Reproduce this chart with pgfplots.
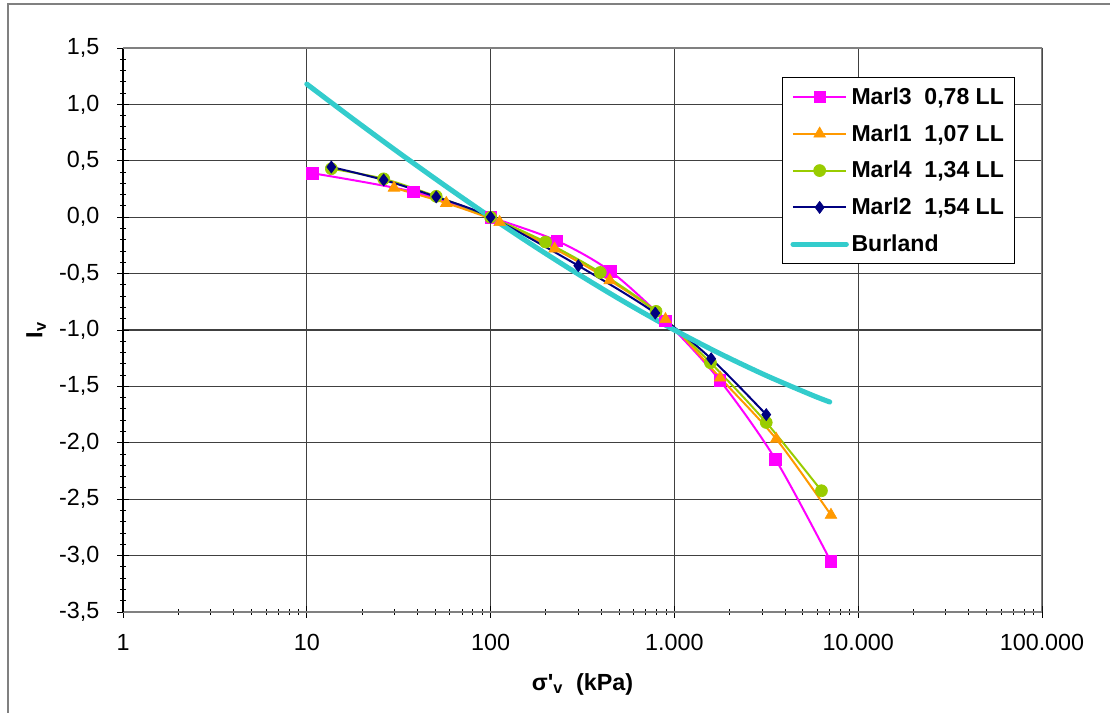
\documentclass[border=0pt]{standalone}
\usepackage{pgfplots}
\pgfplotsset{compat=1.18}
\usepackage{fontspec}
\setmainfont{Liberation Sans}
\definecolor{cMag}{RGB}{255,0,255}
\definecolor{cOra}{RGB}{255,153,0}
\definecolor{cGre}{RGB}{153,204,0}
\definecolor{cNav}{RGB}{0,0,128}
\definecolor{cCya}{RGB}{51,204,204}
\begin{document}
\begin{tikzpicture}
\useasboundingbox (0,0) rectangle (832.5pt,534.75pt);
\draw[gray, line width=1.1pt] (6pt,-5pt) -- (6pt,531.75pt) -- (840pt,531.75pt);
\begin{axis}[
  at={(92.25pt,75.75pt)}, anchor=south west,
  scale only axis, width=689.25pt, height=423pt,
  xmode=log, xmin=1, xmax=100000,
  ymin=-3.5, ymax=1.5,
  axis lines*=left,
  x axis line style={draw=gray, line width=1.4pt},
  y axis line style={draw=black, line width=0.8pt},
  xtick={1,10,100,1000,10000,100000},
  xticklabels={1,10,100,1.000,10.000,100.000},
  ytick={-3.5,-3,-2.5,-2,-1.5,-1,-0.5,0,0.5,1,1.5},
  yticklabels={{-3,5},{-3,0},{-2,5},{-2,0},{-1,5},{-1,0},{-0,5},{0,0},{0,5},{1,0},{1,5}},
  minor ytick={-3.4,-3.3,-3.2,-3.1,-2.9,-2.8,-2.7,-2.6,-2.4,-2.3,-2.2,-2.1,-1.9,-1.8,-1.7,-1.6,-1.4,-1.3,-1.2,-1.1,-0.9,-0.8,-0.7,-0.6,-0.4,-0.3,-0.2,-0.1,0.1,0.2,0.3,0.4,0.6,0.7,0.8,0.9,1.1,1.2,1.3,1.4},
  tick align=center,
  major tick length=9pt, minor tick length=4pt,
  tick style={black, line width=0.7pt},
  grid=major,
  major grid style={black!75, line width=0.9pt},
  ticklabel style={font=\fontsize{17.5pt}{20pt}\selectfont},
  xticklabel style={anchor=north, inner sep=0pt, yshift=-12pt},
  yticklabel style={anchor=east, inner sep=0pt, xshift=-13pt},
  xlabel={\textbf{σ\textquotesingle\textsubscript{v}\ \ (kPa)}},
  ylabel={\textbf{I\textsubscript{v}}},
  label style={font=\fontsize{17.5pt}{20pt}\selectfont},
  xlabel style={at={(axis description cs:0.5,-0.1277)}, anchor=center},
  ylabel style={at={(axis description cs:-0.0945,0.5)}, anchor=center},
  legend style={at={(rel axis cs:0.717,0.9486)}, anchor=north west,
    draw=black, line width=0.8pt, fill=white,
    font=\fontsize{17.3pt}{21pt}\selectfont\bfseries,
    row sep=9.6pt, inner xsep=6pt, inner ysep=5.5pt,
    cells={anchor=west}},
  legend image code/.code={\draw[mark repeat=2,mark phase=2] plot coordinates {(0pt,0pt) (20pt,0pt) (40pt,0pt)};},
]
\draw[gray, line width=1.1pt] (rel axis cs:0,1) -- (rel axis cs:1,1) -- (rel axis cs:1,0);
\addplot[cMag, line width=1.5pt, smooth, mark=square*, mark size=4.3pt, mark options={solid, fill=cMag, line width=0.5pt}] coordinates {
(10.7,0.39) (38,0.225) (100,0) (230,-0.21) (449,-0.48) (895,-0.92) (1762,-1.445) (3542,-2.145) (7090,-3.05)};
\addlegendentry{Marl3\hspace{0.55em}0,78 LL}
\addplot[cOra, line width=1.5pt, smooth, mark=triangle*, mark size=5pt, mark options={solid, fill=cOra, line width=0.5pt}] coordinates {
(29.8,0.26) (57.4,0.125) (112,-0.045) (223,-0.28) (445,-0.56) (894,-0.905) (1774,-1.424) (3580,-1.966) (7110,-2.64)};
\addlegendentry{Marl1\hspace{0.55em}1,07 LL}
\addplot[cGre, line width=1.5pt, smooth, mark=*, mark size=4.5pt, mark options={solid, fill=cGre, line width=0.5pt}] coordinates {
(13.6,0.43) (26.2,0.34) (50.6,0.185) (100,0) (199,-0.22) (395,-0.49) (795,-0.835) (1571,-1.29) (3160,-1.82) (6310,-2.425)};
\addlegendentry{Marl4\hspace{0.55em}1,34 LL}
\addplot[cNav, line width=1.5pt, smooth, mark=diamond*, mark size=4.5pt, mark options={solid, fill=cNav, line width=0.5pt}] coordinates {
(13.6,0.445) (26.2,0.33) (50.6,0.18) (100,0) (300,-0.43) (787,-0.85) (1585,-1.255) (3160,-1.75)};
\addlegendentry{Marl2\hspace{0.55em}1,54 LL}
\addplot[cCya, line width=3.8pt, smooth, line cap=round] coordinates {
(10,1.180) (17.78,0.873) (31.62,0.573) (56.23,0.282) (100,0) (177.8,-0.270) (316.2,-0.528) (562.3,-0.772) (1000,-1.0) (1778,-1.211) (3162,-1.404) (5623,-1.578) (7000,-1.638)};
\addlegendentry{Burland}
\end{axis}
\end{tikzpicture}
\end{document}
